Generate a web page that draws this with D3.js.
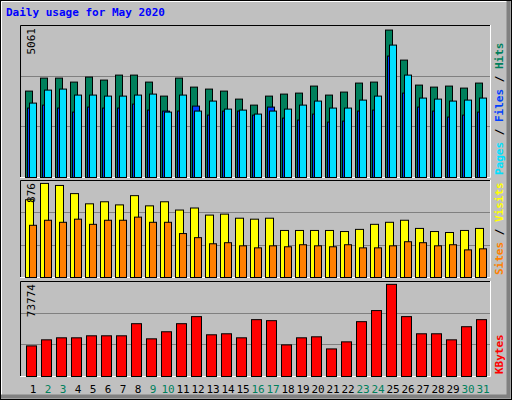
<!DOCTYPE html>
<html><head><meta charset="utf-8">
<script src="https://cdn.jsdelivr.net/npm/d3@7"></script>
<style>body{margin:0;background:#fff}</style></head>
<body><svg id="c" width="512" height="400"></svg>
<script>
const days = d3.range(1,32);
const weekend = [2,3,9,10,16,17,23,24,30,31];
const hits = [2966,3412,3412,3275,3447,3344,3515,3515,3275,2794,3412,3103,3035,2966,2691,2485,2794,2863,2897,3138,2829,2932,3241,3275,5061,4030,3172,3103,3138,3069,3241];
const files = [2554,3000,3035,2829,2829,2794,2794,2829,2863,2245,2829,2280,2623,2348,2314,2177,2280,2348,2485,2623,2383,2383,2657,2794,4545,3515,2726,2691,2623,2657,2726];
const pages = [2383,2485,2383,2245,2417,2383,2383,2520,2314,2280,2280,2451,2142,2280,2280,2142,2417,2039,1971,2177,1902,1936,2280,2314,4168,2897,2417,2280,2074,2142,2245];
const visits = [724,876,857,781,686,705,676,762,667,705,628,647,581,590,552,543,552,438,438,438,438,428,448,495,514,533,457,428,419,438,457];
const sites = [486,533,514,543,495,533,533,562,514,514,409,371,314,324,295,276,295,286,305,295,286,305,276,276,295,333,324,295,305,257,267];
const kbytes = [24506,29354,30970,30970,32585,32585,32585,42280,30162,35817,42280,47935,33393,34201,30970,45512,44704,25314,30970,31777,22083,27738,43896,52783,73774,47935,34201,34201,29354,39856,45512];
const svg = d3.select('#c');
const font = 'DejaVu Sans Mono, monospace';
// outer frame
svg.append('rect').attr('x',0).attr('y',0).attr('width',512).attr('height',400).attr('fill','#C0C0C0');
svg.append('rect').attr('x',0.5).attr('y',0.5).attr('width',511).attr('height',399).attr('fill','none').attr('stroke','#000');
svg.append('path').attr('d','M1.5,398V1.5H510').attr('stroke','#fff').attr('fill','none');
svg.append('path').attr('d','M1,396.5H508.5V1').attr('stroke','#808080').attr('stroke-width',4).attr('fill','none');
svg.append('text').attr('x',6).attr('y',16).text('Daily usage for May 2020').attr('font-family',font).attr('font-weight','bold').attr('font-size',11).attr('fill','#0000FF');

const x = d3.scaleLinear().domain([1,31]).range([25,475]); // left of day slot
function panel(y0,y1,max,label,series){
  const g = svg.append('g');
  g.append('rect').attr('x',20).attr('y',y0).attr('width',470).attr('height',y1-y0).attr('fill','#C0C0C0');
  g.append('path').attr('d',`M20.5,${y1}V${y0+.5}H490`).attr('stroke','#000').attr('fill','none');
  g.append('path').attr('d',`M20,${y1+.5}H490.5V${y0}`).attr('stroke','#fff').attr('fill','none');
  const y = d3.scaleLinear().domain([0,max]).range([y1,y0+ (y1-y0)*0.03]);
  [1/3,2/3].forEach(f=>{const yy=Math.round(y1-(y1-y0)*f)+.5;
    g.append('line').attr('x1',21).attr('x2',490).attr('y1',yy).attr('y2',yy).attr('stroke','#808080');});
  series.forEach(s=>{
    g.selectAll(null).data(s.data).enter().append('rect')
      .attr('x',(d,i)=>x(i+1)+s.off+.5).attr('width',s.w)
      .attr('y',d=>y(d)+.5).attr('height',d=>y1-y(d))
      .attr('fill',s.color).attr('stroke','#000');
  });
  g.append('text').attr('transform',`translate(35,${y0+3}) rotate(-90)`).attr('text-anchor','end')
    .text(max).attr('font-family',font).attr('font-size',11).attr('fill','#000');
  const t = g.append('text').attr('transform',`translate(503,${y1-2}) rotate(-90)`)
    .attr('font-family',font).attr('font-size',11).attr('font-weight','bold');
  label.forEach((l,i)=>{ if(i) t.append('tspan').text(' / ').attr('fill','#000');
    t.append('tspan').text(l[0]).attr('fill',l[1]); });
}
panel(25,177,5061,[['Pages','#00E0FF'],['Files','#0040FF'],['Hits','#00805C']],[
  {data:hits,off:0,w:7,color:'#00805C'},
  {data:pages,off:2,w:7,color:'#0040FF'},
  {data:files,off:4,w:7,color:'#00E0FF'}]);
panel(180,277,876,[['Sites','#FF8000'],['Visits','#FFFF00']],[
  {data:visits,off:0,w:8,color:'#FFFF00'},
  {data:sites,off:4,w:7,color:'#FF8000'}]);
panel(281,376,73774,[['KBytes','#FF0000']],[
  {data:kbytes,off:1,w:10,color:'#FF0000'}]);
svg.selectAll('.d').data(days).enter().append('text')
  .attr('x',d=>x(d)+8).attr('y',393).attr('text-anchor','middle')
  .attr('font-family',font).attr('font-size',11)
  .attr('fill',d=>weekend.includes(d)?'#00805C':'#000').text(d=>d);
</script></body></html>
